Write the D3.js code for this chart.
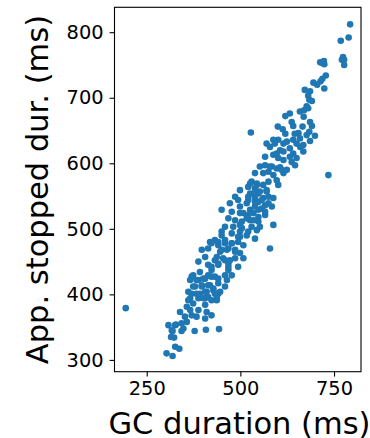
<!DOCTYPE html>
<html>
<head>
<meta charset="utf-8">
<script src="https://cdn.jsdelivr.net/npm/d3@7"></script>
<style>
  body { margin: 0; background: #fff; }
  svg text { font-family: "DejaVu Sans", sans-serif; fill: #000; }
</style>
</head>
<body>
<div id="chart"></div>
<script>
// GC duration (ms) vs application stopped duration (ms)
const gcMs = [
  793, 768, 789, 774, 777, 777, 771, 713, 723, 724, 719, 728, 719, 714, 705, 695, 724,
  672, 686, 681, 684, 691, 677, 681, 670, 659, 669, 632, 620, 637, 641, 666, 686, 691,
  684, 699, 686, 600, 613, 528, 677, 655, 659, 641, 624, 615, 601, 588, 592, 570, 579,
  606, 615, 597, 632, 650, 668, 668, 641, 632, 637, 650, 646, 615, 601, 588, 566, 579,
  552, 606, 735, 566, 584, 597, 610, 624, 539, 561, 575, 588, 615, 530, 544, 521, 539,
  561, 575, 597, 601, 570, 548, 526, 521, 539, 548, 561, 575, 588, 566, 584, 557, 539,
  517, 499, 494, 486, 472, 450, 477, 499, 508, 521, 535, 548, 566, 588, 468, 486, 504,
  526, 548, 530, 504, 481, 459, 450, 477, 499, 521, 544, 552, 450, 499, 517, 539, 579,
  432, 419, 397, 414, 441, 459, 477, 494, 508, 446, 464, 486, 499, 508, 486, 459, 432,
  406, 388, 414, 441, 468, 494, 468, 423, 392, 374, 366, 388, 406, 423, 441, 459, 477,
  464, 459, 441, 419, 397, 374, 361, 383, 406, 428, 441, 366, 388, 414, 437, 446, 401,
  437, 361, 374, 357, 406, 388, 366, 339, 352, 370, 383, 410, 423, 406, 357, 343, 326,
  308, 348, 317, 328, 319, 315, 323, 343, 378, 408, 443, 326, 337, 303, 319, 194,
  370, 383, 401, 414, 432, 379, 397, 414, 428, 370, 392, 410, 432, 406, 423,
  423, 441, 459, 477, 494, 450, 468, 486, 437, 454, 472, 441, 423, 468,
  526, 544, 535, 552, 570, 521, 539, 557, 575, 526, 548, 566, 499, 517, 535, 499,
  620, 645, 660
];
const stoppedMs = [
  812, 787, 792, 762, 758, 750, 758, 754, 756, 751, 753, 734, 729, 725, 720, 723, 714,
  712, 710, 703, 697, 695, 687, 684, 681, 679, 671, 676, 672, 663, 657, 656, 663, 657,
  648, 642, 634, 656, 652, 647, 643, 646, 638, 636, 633, 630, 636, 636, 630, 630, 625,
  620, 618, 615, 623, 630, 628, 618, 615, 610, 602, 608, 597, 605, 608, 613, 610, 595,
  595, 594, 582, 597, 595, 592, 590, 590, 585, 585, 587, 582, 585, 572, 569, 564, 562,
  567, 572, 574, 567, 557, 554, 554, 549, 547, 541, 547, 549, 547, 536, 534, 531, 534,
  539, 559, 544, 549, 539, 529, 526, 534, 524, 521, 524, 518, 521, 506, 516, 513, 511,
  513, 511, 503, 501, 503, 503, 496, 493, 496, 496, 498, 503, 490, 488, 490, 485, 470,
  483, 480, 468, 470, 475, 478, 478, 480, 475, 465, 468, 468, 463, 455, 455, 452, 452,
  457, 450, 445, 445, 447, 442, 437, 437, 434, 429, 422, 422, 424, 427, 424, 429, 429,
  422, 412, 417, 414, 412, 412, 404, 401, 404, 406, 401, 394, 394, 396, 394, 404, 394,
  391, 391, 386, 381, 384, 376, 376, 373, 366, 368, 366, 373, 368, 363, 358, 356, 353,
  353, 348, 345, 354, 344, 335, 334, 344, 344, 346, 347, 320, 317, 310, 306, 379,
  427, 422, 424, 429, 427, 412, 414, 414, 409, 401, 401, 404, 401, 394, 391,
  478, 480, 483, 478, 488, 468, 470, 465, 457, 455, 452, 447, 442, 442,
  569, 567, 554, 557, 559, 544, 541, 544, 539, 529, 529, 526, 524, 516, 513, 506,
  645, 645, 625
];
const xTicks = [250, 500, 750];
const yTicks = [300, 400, 500, 600, 700, 800];

const W = 370, H = 438;
const svg = d3.select("#chart").append("svg")
  .attr("width", W).attr("height", H);

const x = d3.scaleLinear().domain([164, 822]).range([114.5, 361]);
const y = d3.scaleLinear().domain([282, 838]).range([371.7, 7.3]);

const points = gcMs.map((g, i) => ({ gc: g, stop: stoppedMs[i] }));

svg.append("g")
  .selectAll("circle")
  .data(points)
  .enter()
  .append("circle")
  .attr("cx", d => x(d.gc))
  .attr("cy", d => y(d.stop))
  .attr("r", 3.3)
  .attr("fill", "#1f77b4");

// axes
const xAxis = svg.append("g")
  .attr("transform", "translate(0," + 371.7 + ")")
  .call(d3.axisBottom(x).tickValues(xTicks).tickSize(4.9).tickPadding(5));
const yAxis = svg.append("g")
  .attr("transform", "translate(" + 114.5 + ",0)")
  .call(d3.axisLeft(y).tickValues(yTicks).tickSize(4.9).tickPadding(6));

[xAxis, yAxis].forEach(a => {
  a.select(".domain").remove();
  a.selectAll("line").attr("stroke", "#000").attr("stroke-width", 1.1);
  a.selectAll("text").style("font-size", "19.4px").attr("fill", "#000");
});

// frame
svg.append("rect")
  .attr("x", 114.5).attr("y", 7.3)
  .attr("width", 361 - 114.5).attr("height", 371.7 - 7.3)
  .attr("fill", "none").attr("stroke", "#000").attr("stroke-width", 1.1);

svg.append("text")
  .attr("x", 239.5).attr("y", 434)
  .attr("text-anchor", "middle")
  .style("font-size", "30.5px")
  .text("GC duration (ms)");

svg.append("text")
  .attr("transform", "translate(48," + 189.5 + ") rotate(-90)")
  .attr("text-anchor", "middle")
  .style("font-size", "30.5px")
  .text("App. stopped dur. (ms)");
</script>
</body>
</html>
